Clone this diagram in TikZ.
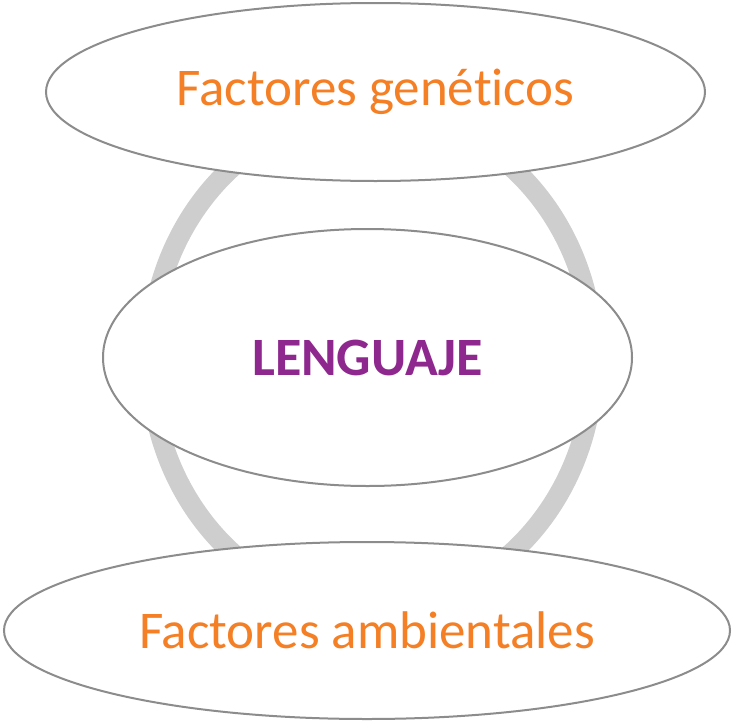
\documentclass[tikz,border=0pt]{standalone}
\usepackage{fontspec}
\setmainfont[Ligatures=NoCommon]{Carlito}
\usetikzlibrary{shapes.geometric}
\definecolor{factorcolor}{RGB}{244,127,36}
\definecolor{lenguajecolor}{RGB}{142,40,142}
\definecolor{edgecolor}{RGB}{140,140,140}
\definecolor{ringcolor}{RGB}{206,206,206}
\tikzset{
  bubble/.style={ellipse, draw=edgecolor, line width=2pt, fill=white, inner sep=0pt},
  factor/.style={bubble, text=factorcolor, font=\fontsize{53}{64}\selectfont},
}

\begin{document}
\begin{tikzpicture}[x=1pt,y=-1pt]
   \useasboundingbox (0,0) rectangle (734,723);

   % ring behind the bubbles
   \draw[ringcolor, line width=20pt] (372,360) ellipse (222 and 248);

   \node[factor, minimum width=659pt, minimum height=178pt] (genes) at (375.5,92) {Factores genéticos};
   \node[bubble, minimum width=529pt, minimum height=257pt, text=lenguajecolor,
         font=\fontsize{54}{65}\selectfont\bfseries] (lenguaje) at (367.5,357.5) {LENGUAJE};
   \node[factor, minimum width=726pt, minimum height=177pt] (ambiente) at (367,630.5) {Factores ambientales};
\end{tikzpicture}
\end{document}
